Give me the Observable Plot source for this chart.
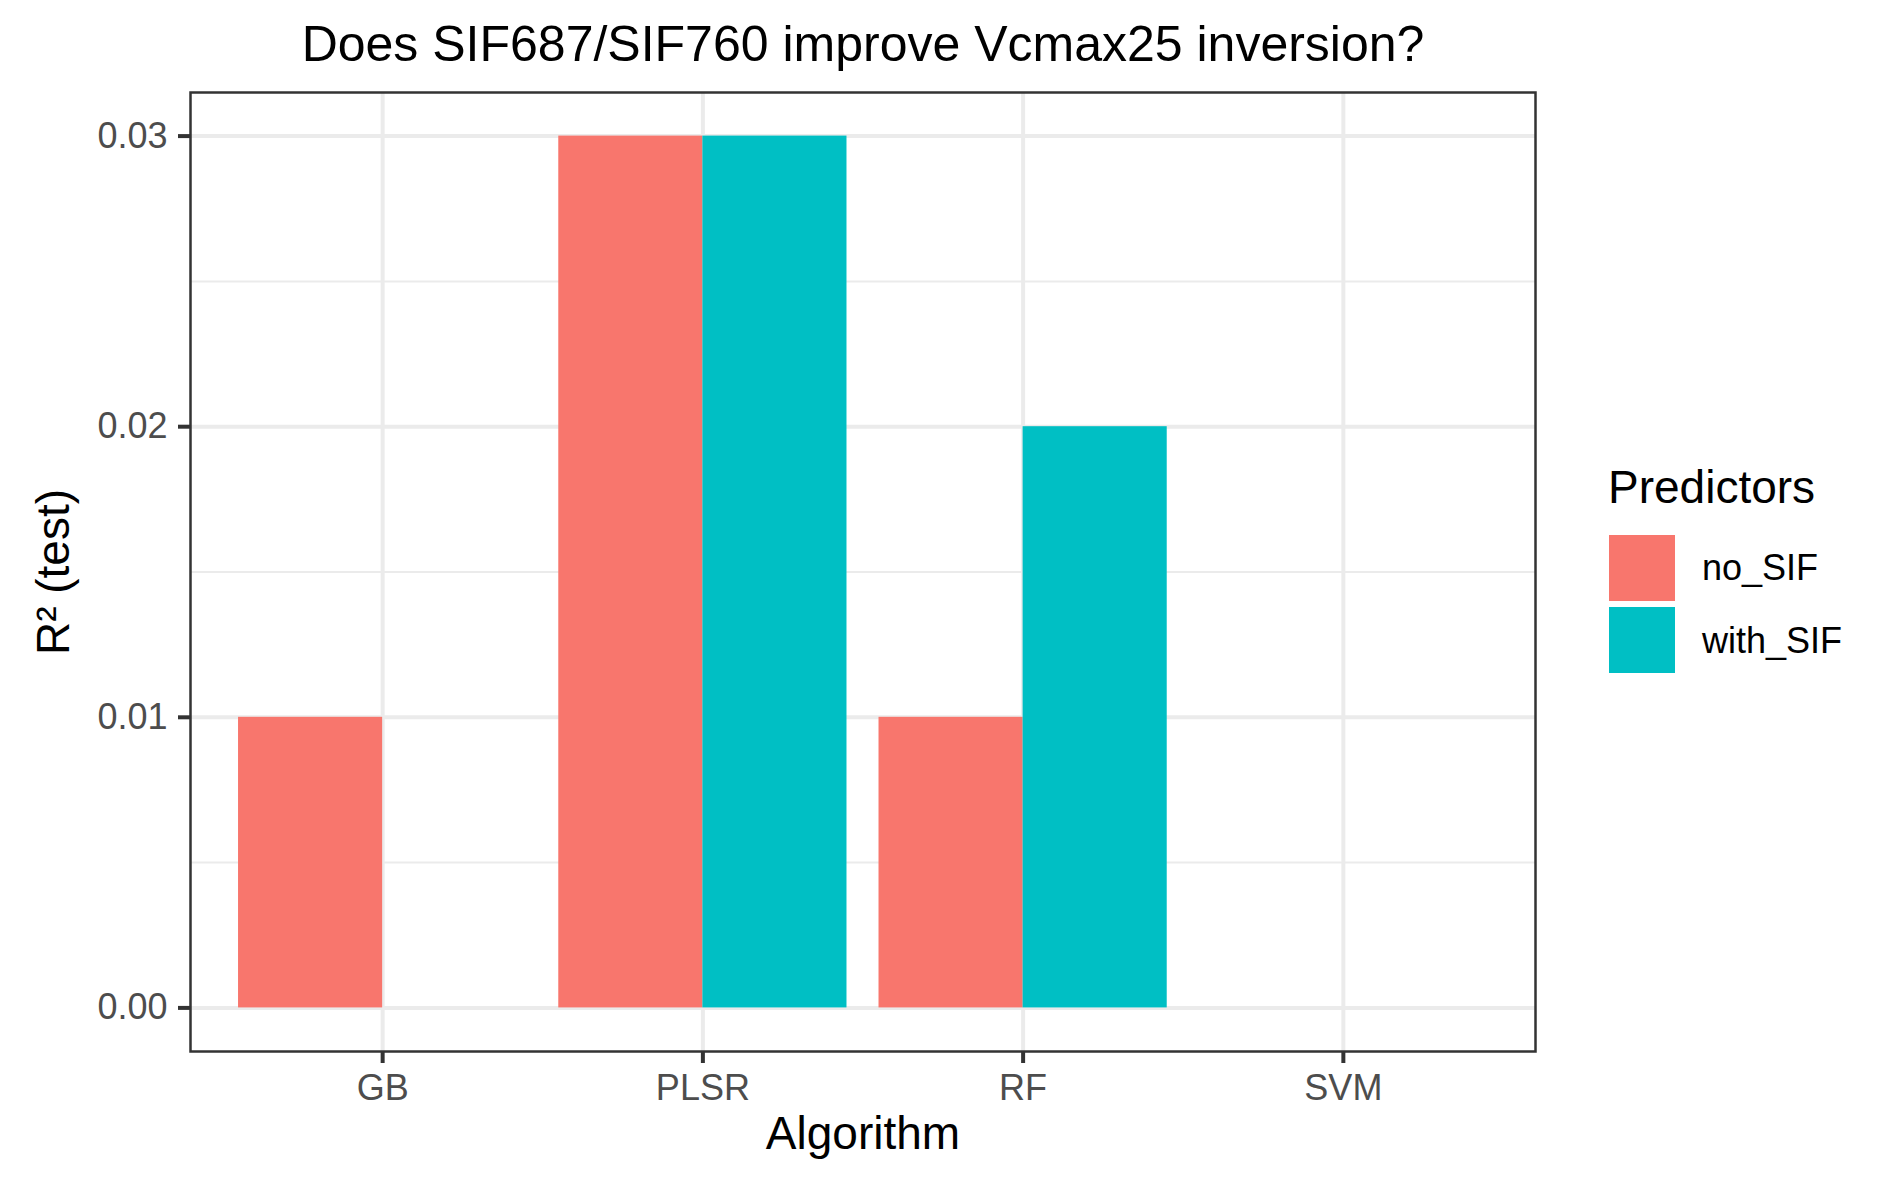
<!DOCTYPE html>
<html>
<head>
<meta charset="utf-8">
<script src="https://cdn.jsdelivr.net/npm/d3@7"></script>
<script src="https://cdn.jsdelivr.net/npm/@observablehq/plot@0.6"></script>
<style>
  html, body { margin: 0; padding: 0; background: #ffffff; }
  #wrap { position: relative; width: 1889px; height: 1181px; background: #ffffff; font-family: "Liberation Sans", Arial, sans-serif; }
  #wrap svg { position: absolute; left: 0; top: 0; }
  .leg-title { position: absolute; font-size: 46px; line-height: 1; color: #000; white-space: nowrap; }
  .leg-key { position: absolute; width: 66px; height: 66px; }
  .leg-label { position: absolute; font-size: 36px; line-height: 1; color: #000; white-space: nowrap; }
</style>
</head>
<body>
<div id="wrap"></div>
<script>
// ---- data ----
const algorithms = ["GB", "PLSR", "RF", "SVM"];
const predictors = ["no_SIF", "with_SIF"];
const noSIF   = [0.01, 0.03, 0.01, 0.00];
const withSIF = [0.00, 0.03, 0.02, 0.00];
const yTicks = [0, 0.01, 0.02, 0.03];
const yMinorTicks = [0.005, 0.015, 0.025];
const predictorColors = ["#F8766D", "#00BFC4"];
const titleText = "Does SIF687/SIF760 improve Vcmax25 inversion?";
const xTitle = "Algorithm";
const yTitle = "R\u00B2 (test)";
const legendTitle = "Predictors";

// ---- build table (ggplot-style dodge, width 0.9) ----
const series = [noSIF, withSIF];
const dodge = 0.9;
const rows = [];
algorithms.forEach((alg, i) => {
  predictors.forEach((pred, j) => {
    const center = i + 1;
    const w = dodge / predictors.length;
    rows.push({
      alg, pred,
      value: series[j][i],
      x1: center - dodge / 2 + j * w,
      x2: center - dodge / 2 + (j + 1) * w
    });
  });
});
const yMax = d3.max(rows, d => d.value);
const yMin = 0;
const ySpan = yMax - yMin;

const W = 1889, H = 1181;
const font = "\"Liberation Sans\", Arial, sans-serif";

const chart = Plot.plot({
  width: W,
  height: H,
  marginLeft: 190,
  marginRight: 354,
  marginTop: 92,
  marginBottom: 130,
  style: { fontFamily: font, background: "#ffffff", overflow: "visible" },
  x: { type: "linear", domain: [1 - 0.6, algorithms.length + 0.6], axis: null },
  y: { type: "linear", domain: [yMin - 0.05 * ySpan, yMax + 0.05 * ySpan], axis: null },
  color: { domain: predictors, range: predictorColors },
  marks: [
    Plot.gridY(yMinorTicks, { stroke: "#ebebeb", strokeOpacity: 1, strokeWidth: 2 }),
    Plot.gridY(yTicks, { stroke: "#ebebeb", strokeOpacity: 1, strokeWidth: 4 }),
    Plot.gridX(d3.range(1, algorithms.length + 1), { stroke: "#ebebeb", strokeOpacity: 1, strokeWidth: 4 }),
    Plot.rectY(rows, { x1: "x1", x2: "x2", y1: 0, y2: "value", fill: "pred", inset: 0 }),
    Plot.frame({ stroke: "#333333", strokeWidth: 2.5 }),
    Plot.axisY(yTicks, {
      tickSize: 12, tickPadding: 11, tickFormat: d3.format(".2f"),
      stroke: "#333333", strokeWidth: 4, fill: "#4d4d4d", fontSize: 36, label: null
    }),
    Plot.axisX(d3.range(1, algorithms.length + 1), {
      tickSize: 12, tickPadding: 11, tickFormat: d => algorithms[d - 1],
      stroke: "#333333", strokeWidth: 4, fill: "#4d4d4d", fontSize: 36, label: null
    }),
    Plot.text([xTitle], { text: d => d, frameAnchor: "bottom", textAnchor: "middle", lineAnchor: "bottom", dy: 97, fontSize: 46, fill: "#000" }),
    Plot.text([yTitle], { text: d => d, frameAnchor: "left", textAnchor: "middle", lineAnchor: "bottom", rotate: -90, dx: -122, fontSize: 46, fill: "#000" }),
    Plot.text([titleText], { text: d => d, frameAnchor: "top", textAnchor: "middle", lineAnchor: "bottom", dy: -32, fontSize: 50, fill: "#000" })
  ]
});

const wrap = document.getElementById("wrap");
wrap.appendChild(chart);

// ---- legend (HTML, right side) ----
const asc = 0.905, desc = 0.212;
function topForBaseline(baseline, size) {
  const half = (1 - (asc + desc)) / 2 * size;
  return baseline - (half + asc * size);
}
const lt = document.createElement("div");
lt.className = "leg-title";
lt.textContent = legendTitle;
lt.style.left = "1608px";
lt.style.top = topForBaseline(503, 46) + "px";
wrap.appendChild(lt);
predictors.forEach((p, j) => {
  const key = document.createElement("div");
  key.className = "leg-key";
  key.style.left = "1609px";
  key.style.top = (535 + j * 72) + "px";
  key.style.background = predictorColors[j];
  wrap.appendChild(key);
  const lab = document.createElement("div");
  lab.className = "leg-label";
  lab.textContent = p;
  lab.style.left = "1702px";
  lab.style.top = topForBaseline(580 + j * 73, 36) + "px";
  wrap.appendChild(lab);
});
</script>
</body>
</html>
